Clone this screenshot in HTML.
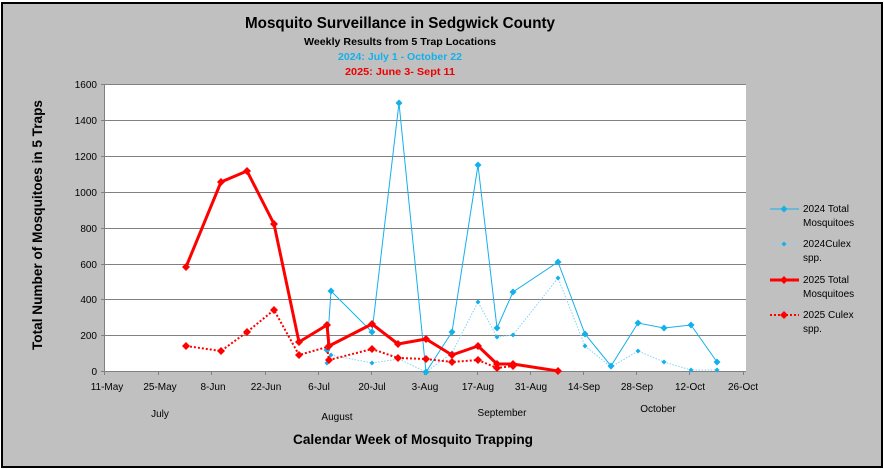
<!DOCTYPE html>
<html><head><meta charset="utf-8"><style>
html,body{margin:0;padding:0;background:#fff}
svg{display:block;font-family:"Liberation Sans",sans-serif}
</style></head><body>
<svg width="884" height="469" viewBox="0 0 884 469" xmlns="http://www.w3.org/2000/svg">
<rect x="0" y="0" width="884" height="469" fill="#fff"/>
<rect x="2" y="3" width="880" height="464" fill="#c0c0c0" stroke="#000" stroke-width="2"/>
<g text-anchor="middle" font-weight="bold">
<text x="400" y="28" font-size="16" textLength="310" lengthAdjust="spacingAndGlyphs">Mosquito Surveillance in Sedgwick County</text>
<text x="400" y="45" font-size="10" textLength="192" lengthAdjust="spacingAndGlyphs">Weekly Results from 5 Trap Locations</text>
<text x="400" y="60" font-size="10" fill="#14b0ec" textLength="124" lengthAdjust="spacingAndGlyphs">2024: July 1 - October 22</text>
<text x="400" y="75" font-size="10" fill="#e00" textLength="110" lengthAdjust="spacingAndGlyphs">2025: June  3- Sept 11</text>
</g>
<rect x="105" y="84" width="641" height="287" fill="#fff"/>
<g stroke="#808080" stroke-width="1">
<line x1="105" y1="84.5" x2="746" y2="84.5"/><line x1="105" y1="120.5" x2="746" y2="120.5"/>
<line x1="105" y1="156.5" x2="746" y2="156.5"/><line x1="105" y1="192.5" x2="746" y2="192.5"/>
<line x1="105" y1="228.5" x2="746" y2="228.5"/><line x1="105" y1="264.5" x2="746" y2="264.5"/>
<line x1="105" y1="299.5" x2="746" y2="299.5"/><line x1="105" y1="335.5" x2="746" y2="335.5"/>
<line x1="105" y1="371.5" x2="746" y2="371.5"/><line x1="104.5" y1="84" x2="104.5" y2="375"/>
<line x1="101" y1="84.5" x2="105" y2="84.5"/><line x1="101" y1="120.5" x2="105" y2="120.5"/><line x1="101" y1="156.5" x2="105" y2="156.5"/><line x1="101" y1="192.5" x2="105" y2="192.5"/><line x1="101" y1="228.5" x2="105" y2="228.5"/><line x1="101" y1="264.5" x2="105" y2="264.5"/><line x1="101" y1="299.5" x2="105" y2="299.5"/><line x1="101" y1="335.5" x2="105" y2="335.5"/><line x1="101" y1="371.5" x2="105" y2="371.5"/>
<line x1="158.5" y1="371" x2="158.5" y2="375"/><line x1="211.5" y1="371" x2="211.5" y2="375"/><line x1="265.5" y1="371" x2="265.5" y2="375"/><line x1="318.5" y1="371" x2="318.5" y2="375"/><line x1="371.5" y1="371" x2="371.5" y2="375"/><line x1="424.5" y1="371" x2="424.5" y2="375"/><line x1="477.5" y1="371" x2="477.5" y2="375"/><line x1="530.5" y1="371" x2="530.5" y2="375"/><line x1="583.5" y1="371" x2="583.5" y2="375"/><line x1="636.5" y1="371" x2="636.5" y2="375"/><line x1="689.5" y1="371" x2="689.5" y2="375"/><line x1="743.5" y1="371" x2="743.5" y2="375"/>
</g>
<g font-size="10" text-anchor="end" fill="#000">
<text x="97" y="88">1600</text><text x="97" y="124">1400</text><text x="97" y="160">1200</text><text x="97" y="196">1000</text><text x="97" y="232">800</text><text x="97" y="268">600</text><text x="97" y="303">400</text><text x="97" y="339">200</text><text x="97" y="375">0</text>
</g>
<g font-size="10" text-anchor="middle" fill="#000">
<text x="107" y="390">11-May</text><text x="160" y="390">25-May</text><text x="213" y="390">8-Jun</text><text x="266" y="390">22-Jun</text><text x="319" y="390">6-Jul</text><text x="372" y="390">20-Jul</text><text x="425" y="390">3-Aug</text><text x="478" y="390">17-Aug</text><text x="531" y="390">31-Aug</text><text x="584" y="390">14-Sep</text><text x="637" y="390">28-Sep</text><text x="690" y="390">12-Oct</text><text x="743" y="390">26-Oct</text>
<text x="160" y="417">July</text><text x="337" y="420">August</text><text x="502" y="416">September</text><text x="658" y="412">October</text>
</g>
<text x="413" y="444" text-anchor="middle" font-size="14" font-weight="bold" textLength="240" lengthAdjust="spacingAndGlyphs">Calendar Week of Mosquito Trapping</text>
<text transform="translate(42,225) rotate(-90)" text-anchor="middle" font-size="14" font-weight="bold" textLength="250" lengthAdjust="spacingAndGlyphs">Total Number of Mosquitoes in 5 Traps</text>
<defs>
<path id="db" d="M0,-3.5 L3.5,0 L0,3.5 L-3.5,0Z" fill="#14b0ec"/>
<path id="dbs" d="M0,-2.5 L2.5,0 L0,2.5 L-2.5,0Z" fill="#14b0ec"/>
<path id="dr" d="M0,-4 L4,0 L0,4 L-4,0Z" fill="#f00"/>
</defs>
<!-- 2024 culex -->
<polyline fill="none" stroke="#7fd3f5" stroke-width="1" stroke-dasharray="1.5,1.5" points="327,363 331,355 372,363 399,359 426,372 452,353 478,302 497,337 513,335 558,278 585,346 611,367 638,351 664,362 691,370 717,370"/>
<g><use href="#dbs" x="327" y="363"/><use href="#dbs" x="331" y="355"/><use href="#dbs" x="372" y="363"/><use href="#dbs" x="426" y="372"/><use href="#dbs" x="452" y="353"/><use href="#dbs" x="478" y="302"/><use href="#dbs" x="497" y="337"/><use href="#dbs" x="513" y="335"/><use href="#dbs" x="558" y="278"/><use href="#dbs" x="585" y="346"/><use href="#dbs" x="611" y="367"/><use href="#dbs" x="638" y="351"/><use href="#dbs" x="664" y="362"/><use href="#dbs" x="691" y="370"/><use href="#dbs" x="717" y="370"/></g>
<!-- 2024 total -->
<polyline fill="none" stroke="#14b0ec" stroke-width="1" points="327,350 331,291 372,332 399,103 426,372 452,332 478,165 497,328 513,292 558,262 585,334 611,366 638,323 664,328 691,325 717,362"/>
<g><use href="#db" x="327" y="350"/><use href="#db" x="331" y="291"/><use href="#db" x="372" y="332"/><use href="#db" x="399" y="103"/><use href="#db" x="426" y="372"/><use href="#db" x="452" y="332"/><use href="#db" x="478" y="165"/><use href="#db" x="497" y="328"/><use href="#db" x="513" y="292"/><use href="#db" x="558" y="262"/><use href="#db" x="585" y="334"/><use href="#db" x="611" y="366"/><use href="#db" x="638" y="323"/><use href="#db" x="664" y="328"/><use href="#db" x="691" y="325"/><use href="#db" x="717" y="362"/></g>
<!-- 2025 culex -->
<polyline fill="none" stroke="#f00" stroke-width="2" stroke-dasharray="2,2" points="186,346 221,351 247,332 274,310 299,355 327,347 329,360 372,349 398,358 426,359 452,362 478,360 497,368 513,366"/>
<g><use href="#dr" x="186" y="346"/><use href="#dr" x="221" y="351"/><use href="#dr" x="247" y="332"/><use href="#dr" x="274" y="310"/><use href="#dr" x="299" y="355"/><use href="#dr" x="329" y="360"/><use href="#dr" x="372" y="349"/><use href="#dr" x="398" y="358"/><use href="#dr" x="426" y="359"/><use href="#dr" x="452" y="362"/><use href="#dr" x="478" y="360"/><use href="#dr" x="497" y="368"/><use href="#dr" x="513" y="366"/></g>
<!-- 2025 total -->
<polyline fill="none" stroke="#f00" stroke-width="3" stroke-linejoin="round" points="186,267 221,182 247,171 274,224 299,342 327,325 329,346 372,324 398,344 426,339 452,355 478,346 497,364 513,364 558,371"/>
<g><use href="#dr" x="186" y="267"/><use href="#dr" x="221" y="182"/><use href="#dr" x="247" y="171"/><use href="#dr" x="274" y="224"/><use href="#dr" x="299" y="342"/><use href="#dr" x="327" y="325"/><use href="#dr" x="329" y="346"/><use href="#dr" x="372" y="324"/><use href="#dr" x="398" y="344"/><use href="#dr" x="426" y="339"/><use href="#dr" x="452" y="355"/><use href="#dr" x="478" y="346"/><use href="#dr" x="497" y="364"/><use href="#dr" x="513" y="364"/><use href="#dr" x="558" y="371"/></g>
<!-- legend -->
<g font-size="10" fill="#000">
<line x1="770" y1="209" x2="799" y2="209" stroke="#14b0ec" stroke-width="1"/><use href="#db" x="784" y="209"/>
<text x="803" y="212">2024 Total</text><text x="803" y="226">Mosquitoes</text>
<line x1="770" y1="244" x2="799" y2="244" stroke="#7fd3f5" stroke-width="1" stroke-dasharray="1.5,1.5"/><use href="#dbs" x="784" y="244"/>
<text x="803" y="247">2024Culex</text><text x="803" y="261">spp.</text>
<line x1="770" y1="280" x2="799" y2="280" stroke="#f00" stroke-width="3"/><use href="#dr" x="784" y="280"/>
<text x="803" y="283">2025 Total</text><text x="803" y="297">Mosquitoes</text>
<line x1="770" y1="315" x2="799" y2="315" stroke="#f00" stroke-width="2" stroke-dasharray="2,2"/><use href="#dr" x="784" y="315"/>
<text x="803" y="318">2025 Culex</text><text x="803" y="332">spp.</text>
</g>
</svg>
</body></html>
